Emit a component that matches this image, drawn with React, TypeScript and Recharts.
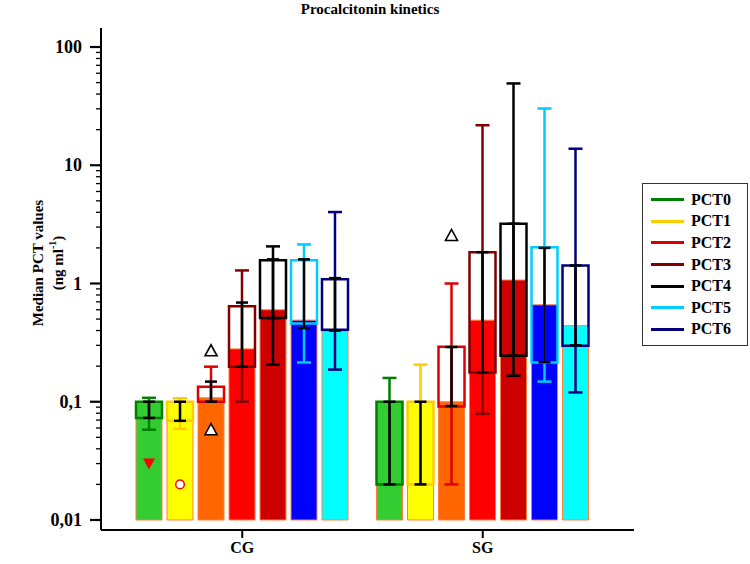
import React from 'react';
import { ComposedChart, Bar, XAxis, YAxis, ErrorBar, Legend } from 'recharts';

const FONT = '"Liberation Serif", "Times New Roman", serif';

const groups = ['CG', 'SG'];
const seriesNames = ['PCT0', 'PCT1', 'PCT2', 'PCT3', 'PCT4', 'PCT5', 'PCT6'];
const barFills = ['#33cc33', '#ffff00', '#ff6600', '#ff0000', '#cc0000', '#0000ff', '#00ffff'];
const lineColors = ['#008000', '#ffcc00', '#dd0000', '#800000', '#000000', '#00ccff', '#000080'];

// rows: CG, SG  /  columns: PCT0 .. PCT6
const medians = [
  [0.1, 0.1, 0.108, 0.28, 0.6, 0.49, 0.394],
  [0.1, 0.1, 0.1, 0.49, 1.07, 0.66, 0.44],
];
const q1 = [
  [0.073, 0.069, 0.1, 0.198, 0.51, 0.46, 0.407],
  [0.02, 0.02, 0.091, 0.177, 0.245, 0.215, 0.298],
];
const q3 = [
  [0.1, 0.1, 0.134, 0.643, 1.57, 1.57, 1.087],
  [0.1, 0.1, 0.292, 1.84, 3.2, 2.03, 1.42],
];
const mins = [
  [0.058, 0.059, 0.1, 0.1, 0.206, 0.215, 0.187],
  [0.02, 0.02, 0.02, 0.079, 0.166, 0.148, 0.12],
];
const maxs = [
  [0.108, 0.107, 0.198, 1.29, 2.06, 2.14, 4.02],
  [0.159, 0.206, 1.0, 21.8, 49.2, 30.2, 13.8],
];
const ciLow = [
  [0.073, 0.069, 0.1, 0.198, 0.51, 0.42, 0.4],
  [0.02, 0.02, 0.092, 0.177, 0.245, 0.216, 0.3],
];
const ciHigh = [
  [0.1, 0.1, 0.148, 0.69, 1.6, 1.6, 1.11],
  [0.1, 0.1, 0.29, 1.84, 3.2, 2.0, 1.42],
];

// significance markers (per group)
const downTriangle = [0.03, null];
const openCircle = [0.02, null];
const upTriangle: (number | number[] | null)[] = [[0.058, 0.27], 2.55];

const BASE = 0.01;
const yTicks = [0.01, 0.1, 1, 10, 100];
const decades = [0.01, 0.1, 1, 10];
const minorSteps = [2, 3, 4, 5, 6, 7, 8, 9];
const minorTicks = decades.flatMap((d) => minorSteps.map((m) => +(m * d).toPrecision(2)));

const data = groups.map((g, gi) => {
  const row: any = { group: g };
  seriesNames.forEach((_, si) => {
    const m = medians[gi][si];
    row[`bar${si}`] = [BASE, m];
    row[`box${si}`] = [q1[gi][si], q3[gi][si]];
    row[`mid${si}`] = m;
    row[`rng${si}`] = [m - mins[gi][si], maxs[gi][si] - m];
    row[`ci${si}`] = [m - ciLow[gi][si], ciHigh[gi][si] - m];
  });
  row.mk0 = downTriangle[gi];
  row.mk1 = openCircle[gi];
  row.mk2 = upTriangle[gi];
  return row;
});

const xPad = { left: 21, right: 31 };

const YTick = (props: any) => {
  const { x, y, payload } = props;
  const major = yTicks.includes(payload.value);
  return (
    <g>
      <line x1={x - (major ? 11 : 5)} x2={x} y1={y} y2={y} stroke="#000" strokeWidth={major ? 2.2 : 1.3} />
      {major && (
        <text x={x - 19} y={y} textAnchor="end" dominantBaseline="central"
          fontFamily={FONT} fontWeight="bold" fontSize={18} fill="#000">
          {String(payload.value).replace('.', ',')}
        </text>
      )}
    </g>
  );
};

const YLabel = () => (
  <g style={{ fontFamily: FONT, fontWeight: 'bold', fontSize: 15, fill: '#000' }}>
    <text x={38} y={263} textAnchor="middle" dominantBaseline="central" transform="rotate(-90 38 263)">
      Median PCT values
    </text>
    <text x={58} y={263} textAnchor="middle" dominantBaseline="central" transform="rotate(-90 58 263)">
      (ng ml<tspan fontSize={10} dy={-6}>-1</tspan><tspan dy={6}>)</tspan>
    </text>
  </g>
);

const markerShape = (kind: string, key: string) => (props: any) => {
  const { x, y, width, height, payload } = props;
  const v = payload ? payload[key] : null;
  if (v == null) return <g />;
  const cx = x + width / 2;
  const ys = Array.isArray(v) ? [y, y + height] : [y];
  return (
    <g>
      {ys.map((cy, i) => {
        if (kind === 'down')
          return <path key={i} d={`M${cx - 6},${cy - 5} L${cx + 6},${cy - 5} L${cx},${cy + 6} Z`} fill="#ff0000" />;
        if (kind === 'circle')
          return <circle key={i} cx={cx} cy={cy} r={4.3} fill="#fff" stroke="#ff0000" strokeWidth={1.5} />;
        return <path key={i} d={`M${cx},${cy - 6} L${cx + 6},${cy + 5} L${cx - 6},${cy + 5} Z`} fill="#fff" stroke="#000" strokeWidth={1.6} />;
      })}
    </g>
  );
};
const markerKinds = ['down', 'circle', 'up'];

const LegendBox = () => (
  <div style={{ border: '1.5px solid #333', background: '#fff', padding: '5px 0 5px 8px', boxSizing: 'border-box', width: 106 }}>
    {seriesNames.map((n, i) => (
      <div key={n} style={{ display: 'flex', alignItems: 'center', height: 21.6 }}>
        <span style={{ display: 'inline-block', width: 33, height: 3, background: lineColors[i], marginRight: 7 }} />
        <span style={{ fontFamily: FONT, fontWeight: 'bold', fontSize: 16, color: '#000' }}>{n}</span>
      </div>
    ))}
  </div>
);

const App = () => {
  return (
    <div style={{ position: 'absolute', left: 0, top: 0, width: 750, height: 564, background: '#fff' }}>
      <div style={{ position: 'absolute', left: 0, top: 1, width: 740, textAlign: 'center', fontFamily: FONT, fontWeight: 'bold', fontSize: 15 }}>
        Procalcitonin kinetics
      </div>
      <ComposedChart width={750} height={564} data={data} barGap={5}
        margin={{ top: 28, right: 116, bottom: 0, left: 0 }}>
        <XAxis xAxisId="a" dataKey="group" padding={xPad} height={34} tickSize={8} tickMargin={4}
          axisLine={{ stroke: '#000', strokeWidth: 2 }} tickLine={{ stroke: '#000', strokeWidth: 2 }}
          tick={{ fill: '#000', fontFamily: FONT, fontWeight: 'bold', fontSize: 16 }} />
        <XAxis xAxisId="b" dataKey="group" padding={xPad} hide />
        <XAxis xAxisId="c" dataKey="group" padding={xPad} hide />
        <XAxis xAxisId="d" dataKey="group" padding={xPad} hide />
        <YAxis scale="log" domain={[0.00823, 144.8]} allowDataOverflow width={101}
          ticks={[...yTicks, ...minorTicks]} interval={0} tick={<YTick />} tickLine={false}
          tickSize={0} tickMargin={0} axisLine={{ stroke: '#000', strokeWidth: 2 }}
          label={{ content: <YLabel /> }} />
        <Legend content={<LegendBox />} layout="horizontal" align="center" verticalAlign="middle"
          wrapperStyle={{ left: 642, top: 183, width: 106 }} />

        {seriesNames.map((n, i) => (
          <Bar key={`bar${i}`} xAxisId="a" dataKey={`bar${i}`} barSize={26} fill={barFills[i]}
            stroke="#ff8040" strokeWidth={1} isAnimationActive={false} legendType="none" />
        ))}
        {seriesNames.map((n, i) => (
          <Bar key={`box${i}`} xAxisId="b" dataKey={`box${i}`} barSize={26} fill="none"
            stroke={lineColors[i]} strokeWidth={2.5} isAnimationActive={false} legendType="none" />
        ))}
        {seriesNames.map((n, i) => (
          <Bar key={`mid${i}`} xAxisId="c" dataKey={`mid${i}`} barSize={26} fill="none"
            isAnimationActive={false} legendType="none">
            <ErrorBar dataKey={`rng${i}`} stroke={lineColors[i]} strokeWidth={2.5} width={7} />
            <ErrorBar dataKey={`ci${i}`} stroke="#000" strokeWidth={2.5} width={6} />
          </Bar>
        ))}
        {seriesNames.map((n, i) => (
          <Bar key={`mk${i}`} xAxisId="d" dataKey={`mk${i}`} barSize={26} fill="none"
            shape={i < 3 ? markerShape(markerKinds[i], `mk${i}`) : undefined}
            isAnimationActive={false} legendType="none" />
        ))}
      </ComposedChart>
    </div>
  );
};

export default App;
